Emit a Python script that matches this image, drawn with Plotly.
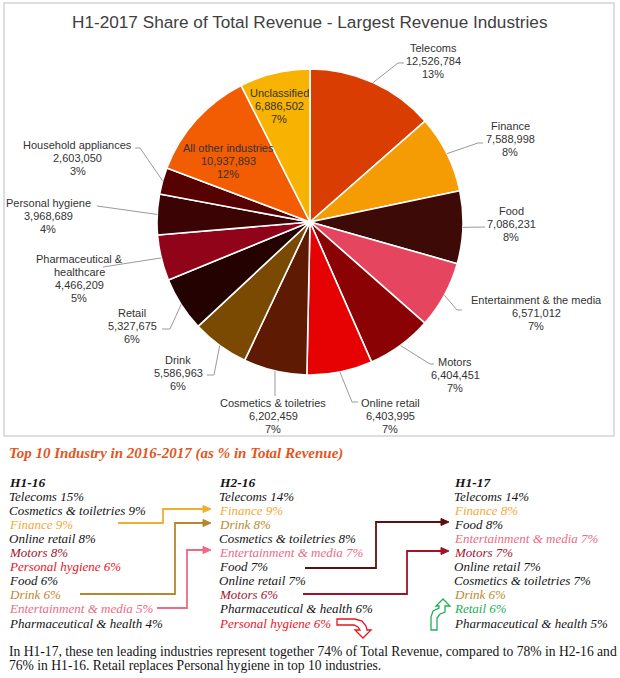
import math
import plotly.graph_objects as go

W, H = 620, 678

# ---------------- data ----------------
industries = ["Telecoms", "Finance", "Food", "Entertainment & the media", "Motors",
              "Online retail", "Cosmetics & toiletries", "Drink", "Retail",
              "Pharmaceutical & healthcare", "Personal hygiene", "Household appliances",
              "All other industries", "Unclassified"]
revenue = [12526784, 7588998, 7086231, 6571012, 6404451, 6403995, 6202459, 5586963,
           5327675, 4466209, 3968689, 2603050, 10937893, 6886502]
pct_labels = [13, 8, 8, 7, 7, 7, 7, 6, 6, 5, 4, 3, 12, 7]

h1_16_names = ["Telecoms", "Cosmetics & toiletries", "Finance", "Online retail", "Motors",
               "Personal hygiene", "Food", "Drink", "Entertainment & media",
               "Pharmaceutical & health"]
h1_16_pct = [15, 9, 9, 8, 8, 6, 6, 6, 5, 4]
h2_16_names = ["Telecoms", "Finance", "Drink", "Cosmetics & toiletries", "Entertainment & media",
               "Food", "Online retail", "Motors", "Pharmaceutical & health", "Personal hygiene"]
h2_16_pct = [14, 9, 8, 8, 7, 7, 7, 6, 6, 6]
h1_17_names = ["Telecoms", "Finance", "Food", "Entertainment & media", "Motors", "Online retail",
               "Cosmetics & toiletries", "Drink", "Retail", "Pharmaceutical & health"]
h1_17_pct = [14, 8, 8, 7, 7, 7, 7, 6, 6, 5]

# ---------------- styles ----------------
slice_colors = ["#D93D02", "#F59C05", "#3E0A08", "#E6455F", "#8A0203", "#E60202",
                "#5E1A02", "#7A4A02", "#250202", "#900318", "#3B0303", "#560202",
                "#F25C02", "#F7B202"]
text_colors = {"Finance": "#F0A93A", "Drink": "#BC8A2E", "Entertainment & media": "#EC6A86",
               "Motors": "#A31530", "Personal hygiene": "#E8141E", "Retail": "#21B05A"}
dark = "#141414"
grey = "#333333"


def X(px):
    return px / W


def Y(py):
    return 1 - py / H


fig = go.Figure()

pie_cx, pie_cy, pie_r = 310, 222, 153
fig.add_trace(go.Pie(
    labels=industries, values=revenue, sort=False, direction="clockwise", rotation=0,
    marker=dict(colors=slice_colors, line=dict(color="white", width=1.6)),
    textinfo="none", textposition="none", hoverinfo="label+value",
    showlegend=False,
    domain=dict(x=[X(pie_cx - pie_r), X(pie_cx + pie_r)], y=[Y(pie_cy + pie_r), Y(pie_cy - pie_r)]),
))

annotations = []
shapes = []

# chart border
shapes.append(dict(type="rect", xref="paper", yref="paper", x0=X(4), x1=X(614), y0=Y(3), y1=Y(436),
                   line=dict(color="#d4d4d4", width=1.5), fillcolor="rgba(0,0,0,0)", layer="below"))

annotations.append(dict(text="H1-2017 Share of Total Revenue - Largest Revenue Industries",
                        x=X(310), y=Y(22), xref="paper", yref="paper", showarrow=False,
                        xanchor="center", yanchor="middle",
                        font=dict(family="Liberation Sans, Arial", size=17.2, color="#404040")))

# label centers (px) and leader-line ends (px) for each slice
label_pos = {
    "Telecoms": ((433, 61), [(398, 63), (404, 63)]),
    "Finance": ((510, 139), [(478, 143), (483, 143)]),
    "Food": ((511, 224), [(485, 227)]),
    "Entertainment & the media": ((536, 313), [(457, 310), (462, 310)]),
    "Motors": ((455, 375), [(430, 364), (434, 364)]),
    "Online retail": ((390, 416), [(352, 402), (358, 402)]),
    "Cosmetics & toiletries": ((273, 416), [(275, 396)]),
    "Drink": ((178, 373), [(214, 375), (207, 375)]),
    "Retail": ((132, 326), [(170, 329), (162, 329)]),
    "Pharmaceutical & healthcare": ((79, 278), [(103, 267)]),
    "Personal hygiene": ((48, 216), [(97, 206)]),
    "Household appliances": ((78, 158), [(140, 148), (135, 148)]),
    "All other industries": ((228, 161), None),
    "Unclassified": ((279, 106), None),
}

total = sum(revenue)
cum = 0
for name, val, pct in zip(industries, revenue, pct_labels):
    mid = (cum + val / 2) / total * 2 * math.pi
    cum += val
    (lx, ly), leader = label_pos[name]
    if name == "Pharmaceutical & healthcare":
        lines = ["Pharmaceutical &", "healthcare", f"{val:,}", f"{pct}%"]
    else:
        lines = [name, f"{val:,}", f"{pct}%"]
    n = len(lines)
    for i, t in enumerate(lines):
        annotations.append(dict(text=t, x=X(lx), y=Y(ly + (i - (n - 1) / 2) * 13),
                                xref="paper", yref="paper", showarrow=False,
                                xanchor="center", yanchor="middle",
                                font=dict(family="Liberation Sans, Arial", size=11, color=grey)))
    if leader:
        ax = pie_cx + pie_r * math.sin(mid)
        ay = pie_cy - pie_r * math.cos(mid)
        pts = [(ax, ay)] + leader
        path = "M " + " L ".join(f"{X(px):.5f},{Y(py):.5f}" for px, py in pts)
        shapes.append(dict(type="path", xref="paper", yref="paper", path=path,
                           line=dict(color="#9a9a9a", width=1)))

# ---------------- lower text section ----------------
serif = "Liberation Serif, Times New Roman, serif"
annotations.append(dict(text="<b><i>Top 10 Industry in 2016-2017 (as % in Total Revenue)</i></b>",
                        x=X(7), y=Y(453), xref="paper", yref="paper", showarrow=False,
                        xanchor="left", yanchor="middle",
                        font=dict(family=serif, size=15, color="#E2561E")))

row0, dy = 482, 14.1
for colx, head, names, pcts in [(7, "H1-16", h1_16_names, h1_16_pct),
                               (217, "H2-16", h2_16_names, h2_16_pct),
                               (452, "H1-17", h1_17_names, h1_17_pct)]:
    annotations.append(dict(text=f"<b><i>{head}</i></b>", x=X(colx), y=Y(row0), xref="paper",
                            yref="paper", showarrow=False, xanchor="left", yanchor="middle",
                            font=dict(family=serif, size=13.5, color=dark)))
    for i, (nm, p) in enumerate(zip(names, pcts)):
        col = text_colors.get(nm, dark)
        if head == "H1-17" and nm == "Food":
            col = dark
        annotations.append(dict(text=f"<i>{nm} {p}%</i>", x=X(colx), y=Y(row0 + dy * (i + 1)),
                                xref="paper", yref="paper", showarrow=False, xanchor="left",
                                yanchor="middle", font=dict(family=serif, size=13, color=col)))

para = ["In H1-17, these ten leading industries represent together 74% of Total Revenue, compared to 78% in H2-16 and",
        "76% in H1-16. Retail replaces Personal hygiene in top 10 industries."]
for i, t in enumerate(para):
    annotations.append(dict(text=t, x=X(7), y=Y(651 + 14 * i), xref="paper", yref="paper",
                            showarrow=False, xanchor="left", yanchor="middle",
                            font=dict(family=serif, size=13.6, color=dark)))

# connector arrows between columns
arrows = [
    ("#F0AE2E", [(118, 523), (163, 523), (163, 509), (204, 509)]),
    ("#B8862B", [(80, 594), (175, 594), (175, 523), (204, 523)]),
    ("#EC6A86", [(157, 608), (187, 608), (187, 550), (204, 550)]),
    ("#5C1010", [(305, 568), (376, 568), (376, 522), (442, 522)]),
    ("#A0142A", [(303, 594), (407, 594), (407, 551), (442, 551)]),
]
for col, pts in arrows:
    path = "M " + " L ".join(f"{X(px):.5f},{Y(py):.5f}" for px, py in pts)
    shapes.append(dict(type="path", xref="paper", yref="paper", path=path,
                       line=dict(color=col, width=1.8)))
    tx, ty = pts[-1]
    head = [(tx - 1, ty - 3.5), (tx + 7, ty), (tx - 1, ty + 3.5)]
    hp = "M " + " L ".join(f"{X(px):.5f},{Y(py):.5f}" for px, py in head) + " Z"
    shapes.append(dict(type="path", xref="paper", yref="paper", path=hp,
                       line=dict(color=col, width=1), fillcolor=col))


def outline(pts, col):
    p = "M " + " L ".join(f"{X(px):.5f},{Y(py):.5f}" for px, py in pts) + " Z"
    shapes.append(dict(type="path", xref="paper", yref="paper", path=p,
                       line=dict(color=col, width=1.3), fillcolor="white"))


# red "out" arrow after Personal hygiene
outline([(337, 619), (355, 619), (362, 621), (366, 626), (367, 630), (371, 630), (363, 638),
         (355, 630), (360, 630), (358, 627), (354, 625), (337, 625)], "#E8141E")
# green "in" arrow before Retail
outline([(431, 630), (431, 617), (433, 611), (439, 608), (439, 606), (436, 606), (443, 599),
         (450, 606), (445, 606), (445, 612), (440, 614), (437, 618), (437, 630)], "#21B05A")

fig.update_layout(width=W, height=H, margin=dict(l=0, r=0, t=0, b=0),
                  paper_bgcolor="white", plot_bgcolor="white",
                  annotations=annotations, shapes=shapes, showlegend=False)

fig.write_html("out.html", config={"displayModeBar": False},
               post_script="document.body.style.margin='0px';")
